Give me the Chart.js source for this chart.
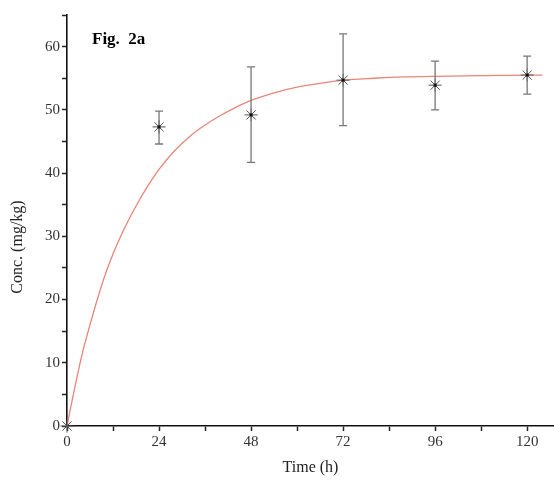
<!DOCTYPE html>
<html>
<head>
<meta charset="utf-8">
<script src="https://cdn.jsdelivr.net/npm/chart.js@4.4.0/dist/chart.umd.min.js"></script>
<style>
  body { margin: 0; background: #fff; }
  #wrap { width: 554px; height: 486px; }
</style>
</head>
<body>
<div id="wrap"><canvas id="concChart" width="554" height="486"></canvas></div>
<script>
// measured points (mean and error bar ends)
const times = [0, 24, 48, 72, 96, 120];
const conc = [0, 47.3, 49.2, 54.7, 53.9, 55.5];
const errLow = [0, 44.6, 41.7, 47.5, 50.0, 52.5];
const errHigh = [0, 49.8, 56.8, 62.0, 57.7, 58.5];

// fitted curve
const fitTimes = [0, 2, 4, 6, 8, 10, 12, 14, 16, 18, 21, 24, 28, 32, 36, 40, 44, 48, 54, 60, 66, 72, 80, 88, 96, 108, 120, 124];
const fitConc = [0, 6.0, 11.5, 16.0, 20.2, 24.0, 27.2, 30.0, 32.5, 34.8, 37.9, 40.6, 43.5, 45.8, 47.6, 49.1, 50.4, 51.5, 52.7, 53.6, 54.2, 54.7, 55.0, 55.2, 55.3, 55.4, 55.5, 55.5];

// labelled ticks and all tick marks (minor ones in between)
const xTicks = [0, 24, 48, 72, 96, 120];
const xTickMarks = [0, 12, 24, 36, 48, 60, 72, 84, 96, 108, 120];
const yTicks = [0, 10, 20, 30, 40, 50, 60];
const yTickMarks = [0, 5, 10, 15, 20, 25, 30, 35, 40, 45, 50, 55, 60, 65];

const serif = '"Liberation Serif", "Times New Roman", serif';

// error bars, y title and figure label
const extras = {
    id: 'extras',
    afterDatasetsDraw(chart) {
        const ctx = chart.ctx;
        const xs = chart.scales.x, ys = chart.scales.y;
        ctx.save();
        ctx.strokeStyle = '#777';
        ctx.lineWidth = 1.3;
        times.forEach((t, i) => {
            if (errHigh[i] === errLow[i]) return;
            const px = xs.getPixelForValue(t);
            const top = ys.getPixelForValue(errHigh[i]);
            const bot = ys.getPixelForValue(errLow[i]);
            ctx.beginPath();
            ctx.moveTo(px, top); ctx.lineTo(px, bot);
            ctx.moveTo(px - 4, top); ctx.lineTo(px + 4, top);
            ctx.moveTo(px - 4, bot); ctx.lineTo(px + 4, bot);
            ctx.stroke();
        });
        // small dark centre on each marker
        ctx.fillStyle = '#111';
        times.forEach((t, i) => {
            if (i === 0) return;
            ctx.fillRect(xs.getPixelForValue(t) - 1.5, ys.getPixelForValue(conc[i]) - 1.5, 3, 3);
        });
        ctx.fillStyle = '#000';
        ctx.font = 'bold 17px ' + serif;
        ctx.textBaseline = 'alphabetic';
        ctx.fillText('Fig.  2a', 92, 44);

        // y axis title, placed like the original (a little below axis centre)
        ctx.fillStyle = '#222';
        ctx.font = '16px ' + serif;
        ctx.textAlign = 'center';
        ctx.textBaseline = 'middle';
        ctx.translate(18, 247);
        ctx.rotate(-Math.PI / 2);
        ctx.fillText('Conc. (mg/kg)', 0, 0);
        ctx.restore();
    }
};

const ctx = document.getElementById('concChart').getContext('2d');
new Chart(ctx, {
    type: 'scatter',
    data: {
        datasets: [{
            label: 'Fit',
            data: fitTimes.map((t, i) => ({ x: t, y: fitConc[i] })),
            showLine: true,
            borderColor: '#e8867a',
            borderWidth: 1.3,
            pointRadius: 0,
            cubicInterpolationMode: 'monotone',
            order: 2
        }, {
            label: 'Measured',
            data: times.map((t, i) => ({ x: t, y: conc[i] })),
            showLine: false,
            pointStyle: 'star',
            pointRadius: 6.5,
            borderColor: '#555',
            borderWidth: 1,
            backgroundColor: '#555',
            clip: false,
            order: 1
        }]
    },
    options: {
        responsive: false,
        animation: false,
        layout: { autoPadding: false, padding: { top: 15, right: 0, left: 0, bottom: 0 } },
        plugins: {
            legend: { display: false },
            tooltip: { enabled: false }
        },
        scales: {
            x: {
                type: 'linear',
                min: 0,
                max: 127,
                afterFit: s => { s.height = 60; s.paddingRight = 0; s.paddingLeft = 0; },
                afterBuildTicks: s => { s.ticks = xTickMarks.map(v => ({ value: v })); },
                ticks: {
                    autoSkip: false,
                    maxRotation: 0,
                    padding: 2,
                    color: '#333',
                    font: { family: serif, size: 15 },
                    callback: v => xTicks.includes(v) ? String(v) : ''
                },
                grid: { drawOnChartArea: false, tickLength: 5, color: '#222', tickWidth: 1.5 },
                border: { color: '#111', width: 1.6 },
                title: {
                    display: true,
                    text: 'Time (h)',
                    color: '#222',
                    font: { family: serif, size: 16 },
                    padding: { top: 4, bottom: 9 }
                }
            },
            y: {
                min: 0,
                max: 65,
                afterFit: s => { s.width = 67; s.paddingTop = 0; s.paddingBottom = 0; },
                afterBuildTicks: s => { s.ticks = yTickMarks.map(v => ({ value: v })); },
                ticks: {
                    autoSkip: false,
                    padding: 2,
                    color: '#333',
                    font: { family: serif, size: 15 },
                    callback: v => yTicks.includes(v) ? String(v) : ''
                },
                grid: { drawOnChartArea: false, tickLength: 5, color: '#222', tickWidth: 1.5 },
                border: { color: '#111', width: 1.6 }
            }
        }
    },
    plugins: [extras]
});
</script>
</body>
</html>
